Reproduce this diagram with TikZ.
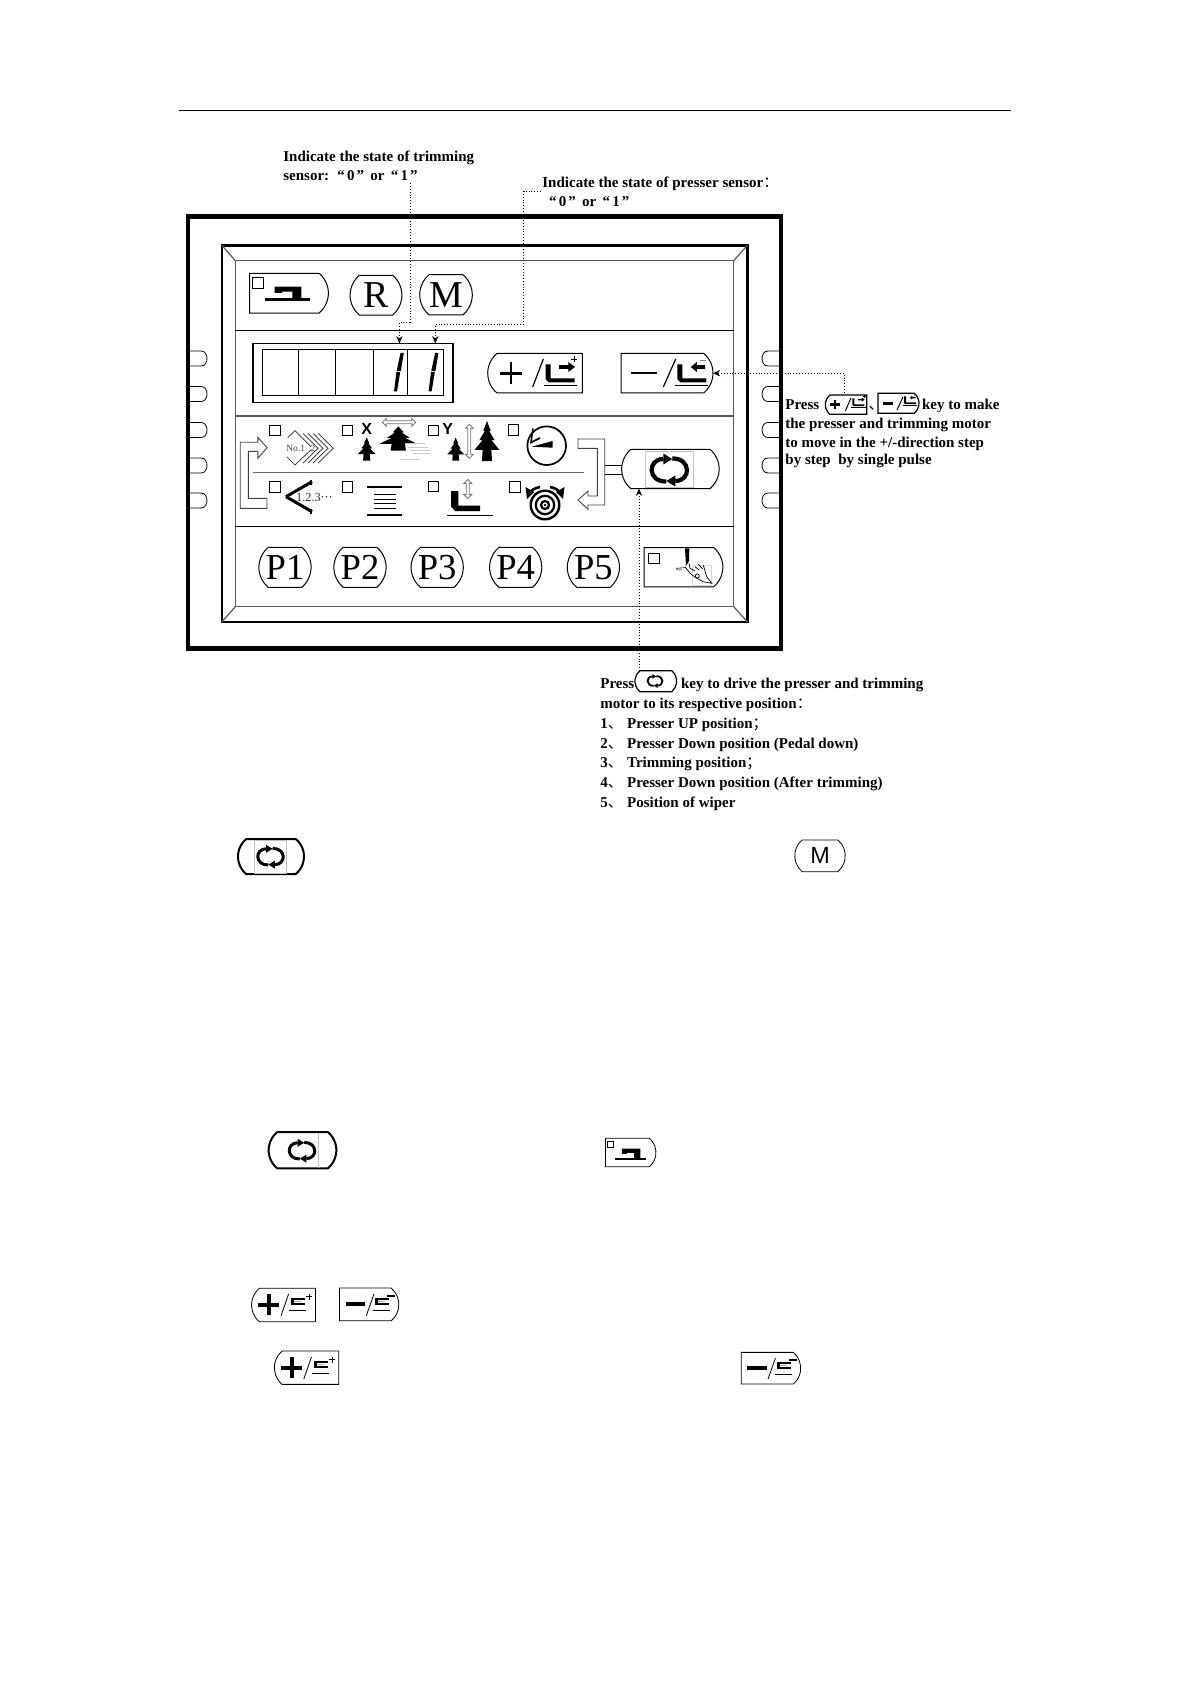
\documentclass[tikz,border=0pt]{standalone}
\usepackage{fontspec}
\setmainfont{Liberation Serif}
\setsansfont{Liberation Sans}
\newfontfamily\cjk{Noto Sans CJK SC}
\usetikzlibrary{positioning, arrows.meta, shapes.misc}

\tikzset{
    pics/cycleicon/.style={code={
        \foreach \rot in {0,180} {
            \begin{scope}[rotate=\rot]
                \draw[line width=#1pt] (-3,11.5) .. controls (-22,12) and (-22,-11) .. (-6,-11);
                \fill (-6,-16.5) -- (3,-11) -- (-6,-5.5) -- cycle;
            \end{scope}
        }
    }},
    pics/machineicon/.style={code={
        \fill (-22,6.3) rectangle (22.6,8.6);
        \fill (-12.5,-5.3) -- (14.4,-5.3) -- (14.4,6.3) -- (5.4,6.3) -- (5.4,-0.3)
              -- (-5,-0.3) -- (-5,1) -- (-12.5,1) -- cycle;
    }},
    pics/firicon/.style={code={
        \fill (0,-1) -- (.3,-.5) -- (.18,-.5) -- (.6,-.05) -- (.35,-.05) -- (1,.45)
              -- (.35,.45) -- (.4,1) -- (-.4,1) -- (-.35,.45) -- (-1,.45) -- (-.35,-.05)
              -- (-.6,-.05) -- (-.18,-.5) -- (-.3,-.5) -- cycle;
    }},
    pics/hollowarrow/.style={code={
        \draw[black!55, line width=.4pt] (-#1,0) -- (-#1+4,-4) -- (-#1+4,-1.5) -- (#1-4,-1.5)
              -- (#1-4,-4) -- (#1,0) -- (#1-4,4) -- (#1-4,1.5) -- (-#1+4,1.5) -- (-#1+4,4) -- cycle;
    }},
    pics/plusmark/.style={code={
        \fill (-11,-#1) rectangle (11,#1);
        \fill (-#1,-11) rectangle (#1,11);
    }},
    pics/minusmark/.style={code={
        \fill (-13,-#1) rectangle (13,#1);
    }},
    pics/footup/.style={code={
        \fill (0,0) -- (5,0) -- (5,14) -- (29,14) -- (29,18) -- (3,18) -- (0,15) -- cycle;
        \fill (-2,20.8) rectangle (31.5,22.2);
        \fill (13.3,.9) -- (22.6,.9) -- (22.6,-2.3) -- (29.3,2.7) -- (22.6,7.7) -- (22.6,4.5) -- (13.3,4.5) -- cycle;
        \fill (25.5,-5.6) rectangle (31.5,-4.9);
        \fill (28.2,-8.4) rectangle (28.9,-2.1);
    }},
    pics/footdown/.style={code={
        \fill (0,0) -- (5,0) -- (5,14) -- (29,14) -- (29,18) -- (3,18) -- (0,15) -- cycle;
        \fill (-2,20.8) rectangle (30.5,22.2);
        \fill (27.7,.9) -- (19.5,.9) -- (19.5,-2.3) -- (13.4,2.7) -- (19.5,7.7) -- (19.5,4.5) -- (27.7,4.5) -- cycle;
        \fill[black!50] (23,-4) rectangle (29,-3.2);
    }},
    pics/footflat/.style={code={
        \fill (0,0) rectangle (14.3,2);
        \fill (0,0) rectangle (3,7);
        \fill (0,5) rectangle (14.3,7);
        \fill[black!30] (3,3.1) rectangle (10,3.9);
        \fill (-2,11.6) rectangle (15.5,12.3);
    }},
    pics/digitone/.style={code={
        \fill (-2.5,0) -- (.8,0) -- (-2.2,18.2) -- (-6.4,18.2) -- cycle;
        \fill (-6.6,19.2) -- (-2.8,19.2) -- (-6,38.5) -- (-9,38.5) -- cycle;
    }},
}

\begin{document}
\begin{tikzpicture}[x=0.5pt, y=-0.5pt,
        notetext/.style={anchor=base west, inner sep=0pt, yshift=-.35pt, font=\fontsize{7.5}{9.9}\selectfont\bfseries},
        note/.style={densely dotted, line width=.45pt, -{Stealth[length=3.6pt, width=3.2pt]}},
        keysize/.style 2 args={minimum width=#1*0.5pt, minimum height=#2*0.5pt},
        keyboth/.style={rounded rectangle, rounded rectangle arc length=100, draw, inner sep=0pt, outer sep=0pt, line width=.5pt},
        keyleft/.style={keyboth, rounded rectangle right arc=none},
        keyright/.style={keyboth, rounded rectangle left arc=none},
        bigface/.style={font=\fontsize{19}{19}\selectfont},
        lamp/.style={draw, line width=.5pt, minimum width=5.3pt, minimum height=5.2pt, inner sep=0pt},
        hollow/.style={draw=black!75, line width=.45pt, fill=white},
        panelline/.style={black!65, line width=.6pt}]

    \useasboundingbox (0,0) rectangle (1191,1684);

    % page rule
    \coordinate (ruleL) at (179,110.8);
    \coordinate (ruleR) at (1011,110.8);
    \draw[line width=.5pt] (ruleL) -- (ruleR);

    % side tabs, then the case over them
    \foreach \y in {358.5,394,430,465.5,500.5} {
        \draw[line width=.4pt] (190,\y-7.5) -- (201,\y-7.5) .. controls (209,\y-7.5) and (209,\y+7.5) .. (201,\y+7.5) -- (190,\y+7.5);
        \draw[line width=.4pt] (779,\y-7.5) -- (768,\y-7.5) .. controls (760,\y-7.5) and (760,\y+7.5) .. (768,\y+7.5) -- (779,\y+7.5);
    }
    \draw[line width=2.3pt] (188,216.7) rectangle (781,648.7);
    \draw[line width=1.3pt] (221.8,245.3) rectangle (747.5,622);
    \draw[panelline] (235.3,260.7) rectangle (733.7,606.7);
    \draw[panelline] (221.8,245.3) -- (235.3,260.7);
    \draw[panelline] (747.5,245.3) -- (733.7,260.7);
    \draw[panelline] (221.8,622) -- (235.3,606.7);
    \draw[panelline] (747.5,622) -- (733.7,606.7);
    \draw[line width=.5pt] (235.3,330.3) -- (733.7,330.3);
    \draw[panelline] (235.3,416) -- (733.7,416);
    \draw[line width=.5pt] (235.3,526.7) -- (733.7,526.7);

    % top row
    \node[keyright, keysize={78.8}{39.7}] (keymachine) at (289,293.2) {};
    \node[lamp] (lampmachine) at (257.8,283) {};
    \pic at (287,292) {machineicon};
    \node[keyboth, keysize={47}{39.7}, bigface] (keyR) at (376,295.2) {R};
    \node[keyboth, keysize={50.4}{40.3}, bigface] (keyM) at (446,294.8) {M};

    % display
    \node[draw, line width=.7pt, minimum width=100pt, minimum height=29.7pt, inner sep=0pt] (display) at (352.9,373) {};
    \node[draw, line width=.5pt, minimum width=90.9pt, minimum height=23pt, inner sep=0pt] (digits) at (353,373) {};
    \foreach \x in {298.6,334.9,372.9,407.6} {
        \draw[line width=.35pt] (\x,350) -- (\x,396);
    }
    \pic at (403,353) {digitone};
    \pic at (437.6,353) {digitone};
    \coordinate (digitfour) at (399.4,343.3);
    \coordinate (digitfive) at (435.3,343.3);

    % plus and minus keys
    \node[keyleft, keysize={94.6}{39.4}] (keyplus) at (535,373.2) {};
    \pic at (510.8,373.5) {plusmark=1.1};
    \draw[line width=.6pt] (532.7,387) -- (543.3,359);
    \pic at (545.7,364.3) {footup};
    \node[keyright, keysize={92}{39.4}] (keyminus) at (667,373.2) {};
    \pic at (643.7,373.2) {minusmark=1};
    \draw[line width=.6pt] (663.3,387) -- (675.7,359);
    \pic at (677.3,364.3) {footdown};

    % icon rows
    \foreach \n/\x/\y in {a/275.2/430.8, b/347.4/430.8, c/433.3/430.5, d/513.3/430,
                          e/275.2/487, f/347.4/487, g/433.3/486.7, h/514.8/487} {
        \node[lamp] (lamp\n) at (\x,\y) {};
    }
    \draw[black!60, line width=.7pt] (252.9,472.7) -- (584.3,472.7);

    \draw[hollow] (267,508.3) -- (240.2,508.3) -- (240.2,442.3) -- (257.8,442.3) -- (257.8,437.3) -- (267.1,447.7)
          -- (257.8,458.3) -- (257.8,451.3) -- (248.4,451.3) -- (248.4,498.3) -- (267,498.3) -- cycle;
    \draw[hollow] (578,439) -- (604.7,439) -- (604.7,505) -- (588,505) -- (588,509.3) -- (578,500)
          -- (588,491) -- (588,496) -- (597.3,496) -- (597.3,448.3) -- (578,448.3) -- cycle;

    % program chevrons
    \draw[black!85, line width=.35pt] (287.7,437.7) -- (295,430.7) -- (312.7,448.3) -- (295,465) -- (286.7,456.7);
    \foreach \t in {318,323,328,333.3} {
        \draw[black!85, line width=.35pt] (\t-15,433.5) -- (\t,448.3) -- (\t-15,463);
    }
    \node[inner sep=0pt, text=black!75, font=\fontsize{4.7}{5}\selectfont] (labelno) at (295.7,448.3) {No.1};
    \node[inner sep=0pt, fill=white, text=black!75, font=\fontsize{4.7}{5}\selectfont] (labeltwo) at (313,448.3) {2};

    % X tension
    \node[inner sep=0pt, font=\fontsize{8}{8}\selectfont\sffamily\bfseries] (labelX) at (366.7,429.3) {X};
    \pic[xscale=9, yscale=11.5] at (366.7,449) {firicon};
    \pic[xscale=19, yscale=12] at (398.3,438.5) {firicon};
    \pic at (399,422.3) {hollowarrow=16.7};
    \foreach \y/\a/\b in {444/405/425, 447/408/428, 450/410/430, 453/412/431} {
        \draw[black!22, line width=.5pt] (\a,\y) -- (\b,\y);
    }
    \draw[black!22, line width=.4pt] (400,459) -- (420,459);

    % Y tension
    \node[inner sep=0pt, font=\fontsize{8}{8}\selectfont\sffamily\bfseries] (labelY) at (447.7,429) {Y};
    \pic[xscale=8.5, yscale=11.5] at (455.7,449.2) {firicon};
    \pic[xscale=12.5, yscale=20] at (487,441) {firicon};
    \pic[rotate=90] at (469.3,441.3) {hollowarrow=17};

    % clock
    \draw[line width=.85pt] (546.7,445.7) circle[radius=19.3];
    \draw[line width=.8pt] (533,428.5) -- (531,442.5) -- (540,438);
    \fill (531.7,446.7) -- (552.7,441) -- (552.7,447.7) -- cycle;

    % stitch counter
    \draw[line width=1.5pt] (286,496.7) -- (312,481.7);
    \draw[line width=1.5pt] (286,496.7) -- (312,511.7);
    \draw[line width=1pt] (310.5,479.5) -- (310.5,485);
    \draw[line width=1pt] (310.5,508.5) -- (310.5,514);
    \node[inner sep=0pt, text=black!80, font=\fontsize{6.2}{7}\selectfont] (labelcount) at (308.5,497) {1.2.3};
    \foreach \x in {322.5,326.5,330.5} {
        \fill[black!80] (\x,496.7) circle[radius=.9];
    }

    % bobbin lines
    \foreach \y in {487.3,515} {
        \draw[line width=.9pt] (367,\y) -- (402.3,\y);
    }
    \foreach \y in {494.3,499,503.3,508.3} {
        \draw[line width=.4pt] (374.3,\y) -- (395.7,\y);
    }

    % presser foot
    \fill (451,491) -- (458.3,491) -- (458.3,505.5) -- (480,505.5) -- (480,511) -- (455,511) -- (451,506.5) -- cycle;
    \draw[line width=.5pt] (447.3,515) -- (493.3,515);
    \pic[rotate=90] at (467.7,489) {hollowarrow=9.5};

    % wiper target
    \draw[line width=1.2pt] (545,505) circle[radius=14.3];
    \draw[line width=1.1pt] (545,505) circle[radius=9.2];
    \draw[line width=1.1pt] (545,505) circle[radius=4];
    \fill (545,505) circle[radius=1.4];
    \draw[line width=1.3pt] (529,494) .. controls (531,490) and (535,488) .. (540,487);
    \draw[line width=1.3pt] (561,494) .. controls (559,490) and (555,488) .. (550,487);
    \fill (525.5,487) -- (527,499) -- (534,492) -- cycle;
    \fill (564.5,487) -- (563,499) -- (556,492) -- cycle;

    % cycle key
    \draw[line width=.5pt] (604.7,465) -- (622,465);
    \draw[line width=.5pt] (604.7,474.3) -- (622,474.3);
    \node[keyboth, keysize={97.5}{39.4}] (keycycle) at (670.4,469) {};
    \node[draw=black!25, line width=.4pt, minimum width=23.9pt, minimum height=18.1pt, inner sep=0pt] (cycleface) at (669.4,469) {};
    \pic at (669.3,470) {cycleicon=2.1};

    % program keys
    \foreach \n/\x in {1/285, 2/360, 3/437.2, 4/515.7, 5/593.4} {
        \node[keyboth, keysize={47.5}{40}, font=\fontsize{18.3}{19}\selectfont] (keyP\n) at (\x,567.3) {P\n};
    }
    \node[keyright, keysize={78.7}{39.2}] (keyhand) at (683.5,567.2) {};
    \node[lamp] (lamphand) at (653.7,558.3) {};
    \fill (685,548.3) -- (689.3,548.3) -- (689,561) -- (686,566) -- cycle;
    \draw[black!15, line width=.3pt] (692.7,565) rectangle (711.7,585);
    \draw[line width=.3pt] (676,568.3) -- (685,567.7) (676,569.8) -- (682,569.8);
    \draw[line width=.35pt] (689,563.3) -- (690,568.3) -- (695,571);
    \draw[line width=.35pt] (695,566.7) -- (699.3,570);
    \draw[line width=.35pt] (698.3,564.3) -- (702.7,569);
    \draw[line width=.35pt] (703.3,565) -- (705,571) -- (706.7,576.7) -- (711.7,583.3) -- (703.3,581.7)
          -- (696.7,578.3) -- (690,573.3) -- (685,566.7);
    \draw[line width=.35pt] (697.3,576) circle[radius=2];

    % notes above the panel
    \node[notetext] (trimA) at (283,160.7) {Indicate the state of trimming};
    \node[notetext] (trimB) at (283,180) {sensor:\hspace{.55em}“\hspace{.14em}0\hspace{.14em}”\hspace{.42em}or\hspace{.42em}“\hspace{.14em}1\hspace{.14em}”};
    \node[notetext] (pressA) at (542,186.7) {Indicate the state of presser sensor{\cjk\mdseries ：}};
    \node[notetext] (pressB) at (548.8,206.3) {“\hspace{.14em}0\hspace{.14em}”\hspace{.42em}or\hspace{.42em}“\hspace{.14em}1\hspace{.14em}”};
    \coordinate (trimstart) at (410,183);
    \coordinate (pressstart) at (541,191);
    \draw[note] (trimstart) -- ++(0,139.3) -| (digitfour);
    \draw[note] (pressstart) -- ++(-17.5,0) -- ++(0,133.3) -| (digitfive);

    % note about stepping
    \node[notetext] (stepA) at (785,409.3) {Press};
    \node[keyleft, keysize={41.4}{19.3}, line width=.6pt] (inlineplus) at (846,404.7) {};
    \pic[scale=.45] at (835,404.5) {plusmark=2.6};
    \draw[line width=.5pt] (845.3,411) -- (851,398);
    \pic[scale=.42] at (852.3,398.5) {footup};
    \node[notetext, anchor=base] (stepcomma) at (876,409.3) {\cjk\mdseries 、};
    \node[keyright, keysize={41}{20}, line width=.6pt] (inlineminus) at (898.5,403.3) {};
    \pic[scale=.42] at (888,403.5) {minusmark=2.4};
    \draw[line width=.5pt] (897,410) -- (903,397);
    \pic[scale=.42] at (904,396.5) {footdown};
    \node[notetext] (stepB) at (921.7,409.3) {key to make};
    \node[notetext] (stepC) at (785,428.3) {the presser and trimming motor};
    \node[notetext] (stepD) at (785,446.7) {to move in the +/-direction step};
    \node[notetext] (stepE) at (785,464.3) {by step\ \ by single pulse};
    \coordinate (stepstart) at (844,393);
    \draw[note] (stepstart) |- (keyminus.east);

    % note about driving
    \node[notetext] (driveA) at (600,687.3) {Press};
    \node[keyboth, keysize={41.7}{21}, line width=.6pt] (inlinecycle) at (655.8,681.2) {};
    \pic[scale=.42] at (655,681) {cycleicon=.9};
    \node[notetext] (driveB) at (680.7,687.3) {key to drive the presser and trimming};
    \node[notetext] (driveC) at (600,707.3) {motor to its respective position{\cjk\mdseries ：}};
    \foreach \n/\y/\t in {1/727.3/Presser UP position{\cjk\mdseries ；},
                          2/747.3/Presser Down position (Pedal down),
                          3/767/Trimming position{\cjk\mdseries ；},
                          4/787/Presser Down position (After trimming),
                          5/806.7/Position of wiper} {
        \node[notetext] (drivenum\n) at (600,\y) {\n{\cjk\mdseries 、}};
        \node[notetext] (drive\n) at (626.7,\y) {\t};
    }
    \coordinate (drivestart) at (639,671);
    \draw[note] (drivestart) -- (drivestart |- keycycle.south);

    % keys that stand alone lower down
    \node[keyboth, keysize={66}{35}, line width=1pt] (lowcycleA) at (271,856.5) {};
    \draw[black!25, line width=.3pt] (254.5,840) rectangle (286.5,873);
    \pic[scale=.72] at (270.5,856.7) {cycleicon=1.5};
    \node[keyboth, keysize={50.5}{31.7}, line width=.4pt, font=\fontsize{11.7}{12}\selectfont\sffamily] (lowM) at (820,855.8) {M};

    \node[keyboth, keysize={67.7}{36.3}, line width=1pt] (lowcycleB) at (302.5,1150.2) {};
    \draw[black!25, line width=.3pt] (318.5,1133) -- (318.5,1167.5);
    \pic[scale=.72] at (302,1150.7) {cycleicon=1.5};
    \node[keyright, keysize={50.5}{28.4}, line width=.4pt] (lowmachine) at (630.7,1152.5) {};
    \node[draw, line width=.35pt, minimum width=3pt, minimum height=2.8pt, inner sep=0pt] (lowlamp) at (610.5,1144.5) {};
    \pic[xscale=.69, yscale=.85] at (630.4,1153) {machineicon};

    \node[keyleft, keysize={63.9}{33.4}, line width=.4pt] (lowplusA) at (283.5,1305) {};
    \pic[scale=.95] at (268.7,1304.5) {plusmark=2.1};
    \draw[line width=.4pt] (281,1315.7) -- (288.6,1294);
    \pic at (290.5,1298) {footflat};
    \draw[line width=.35pt] (306,1296.7) -- (312,1296.7) (309,1293.5) -- (309,1300);
    \node[keyright, keysize={59.3}{32.7}, line width=.4pt] (lowminusA) at (369.2,1304.4) {};
    \pic[scale=.75] at (355.3,1304) {minusmark=3};
    \draw[line width=.4pt] (366.3,1315.7) -- (374,1294);
    \pic at (374.7,1298) {footflat};
    \fill (387,1295) rectangle (394.5,1296.5);

    \node[keyleft, keysize={64.3}{33.3}, line width=.4pt] (lowplusB) at (306.5,1367.7) {};
    \pic[scale=.95] at (291.5,1367.5) {plusmark=2.1};
    \draw[line width=.4pt] (303.8,1379) -- (311.5,1357);
    \pic at (313.5,1361) {footflat};
    \draw[line width=.35pt] (329,1359.7) -- (335,1359.7) (332,1356.5) -- (332,1363);
    \node[keyright, keysize={59.4}{31.7}, line width=.4pt] (lowminusB) at (771,1368.2) {};
    \pic[scale=.75] at (757,1368) {minusmark=3};
    \draw[line width=.4pt] (768,1379) -- (775.5,1358);
    \pic at (776.5,1362) {footflat};
    \fill (789,1359) rectangle (796.5,1360.5);

\end{tikzpicture}
\end{document}
